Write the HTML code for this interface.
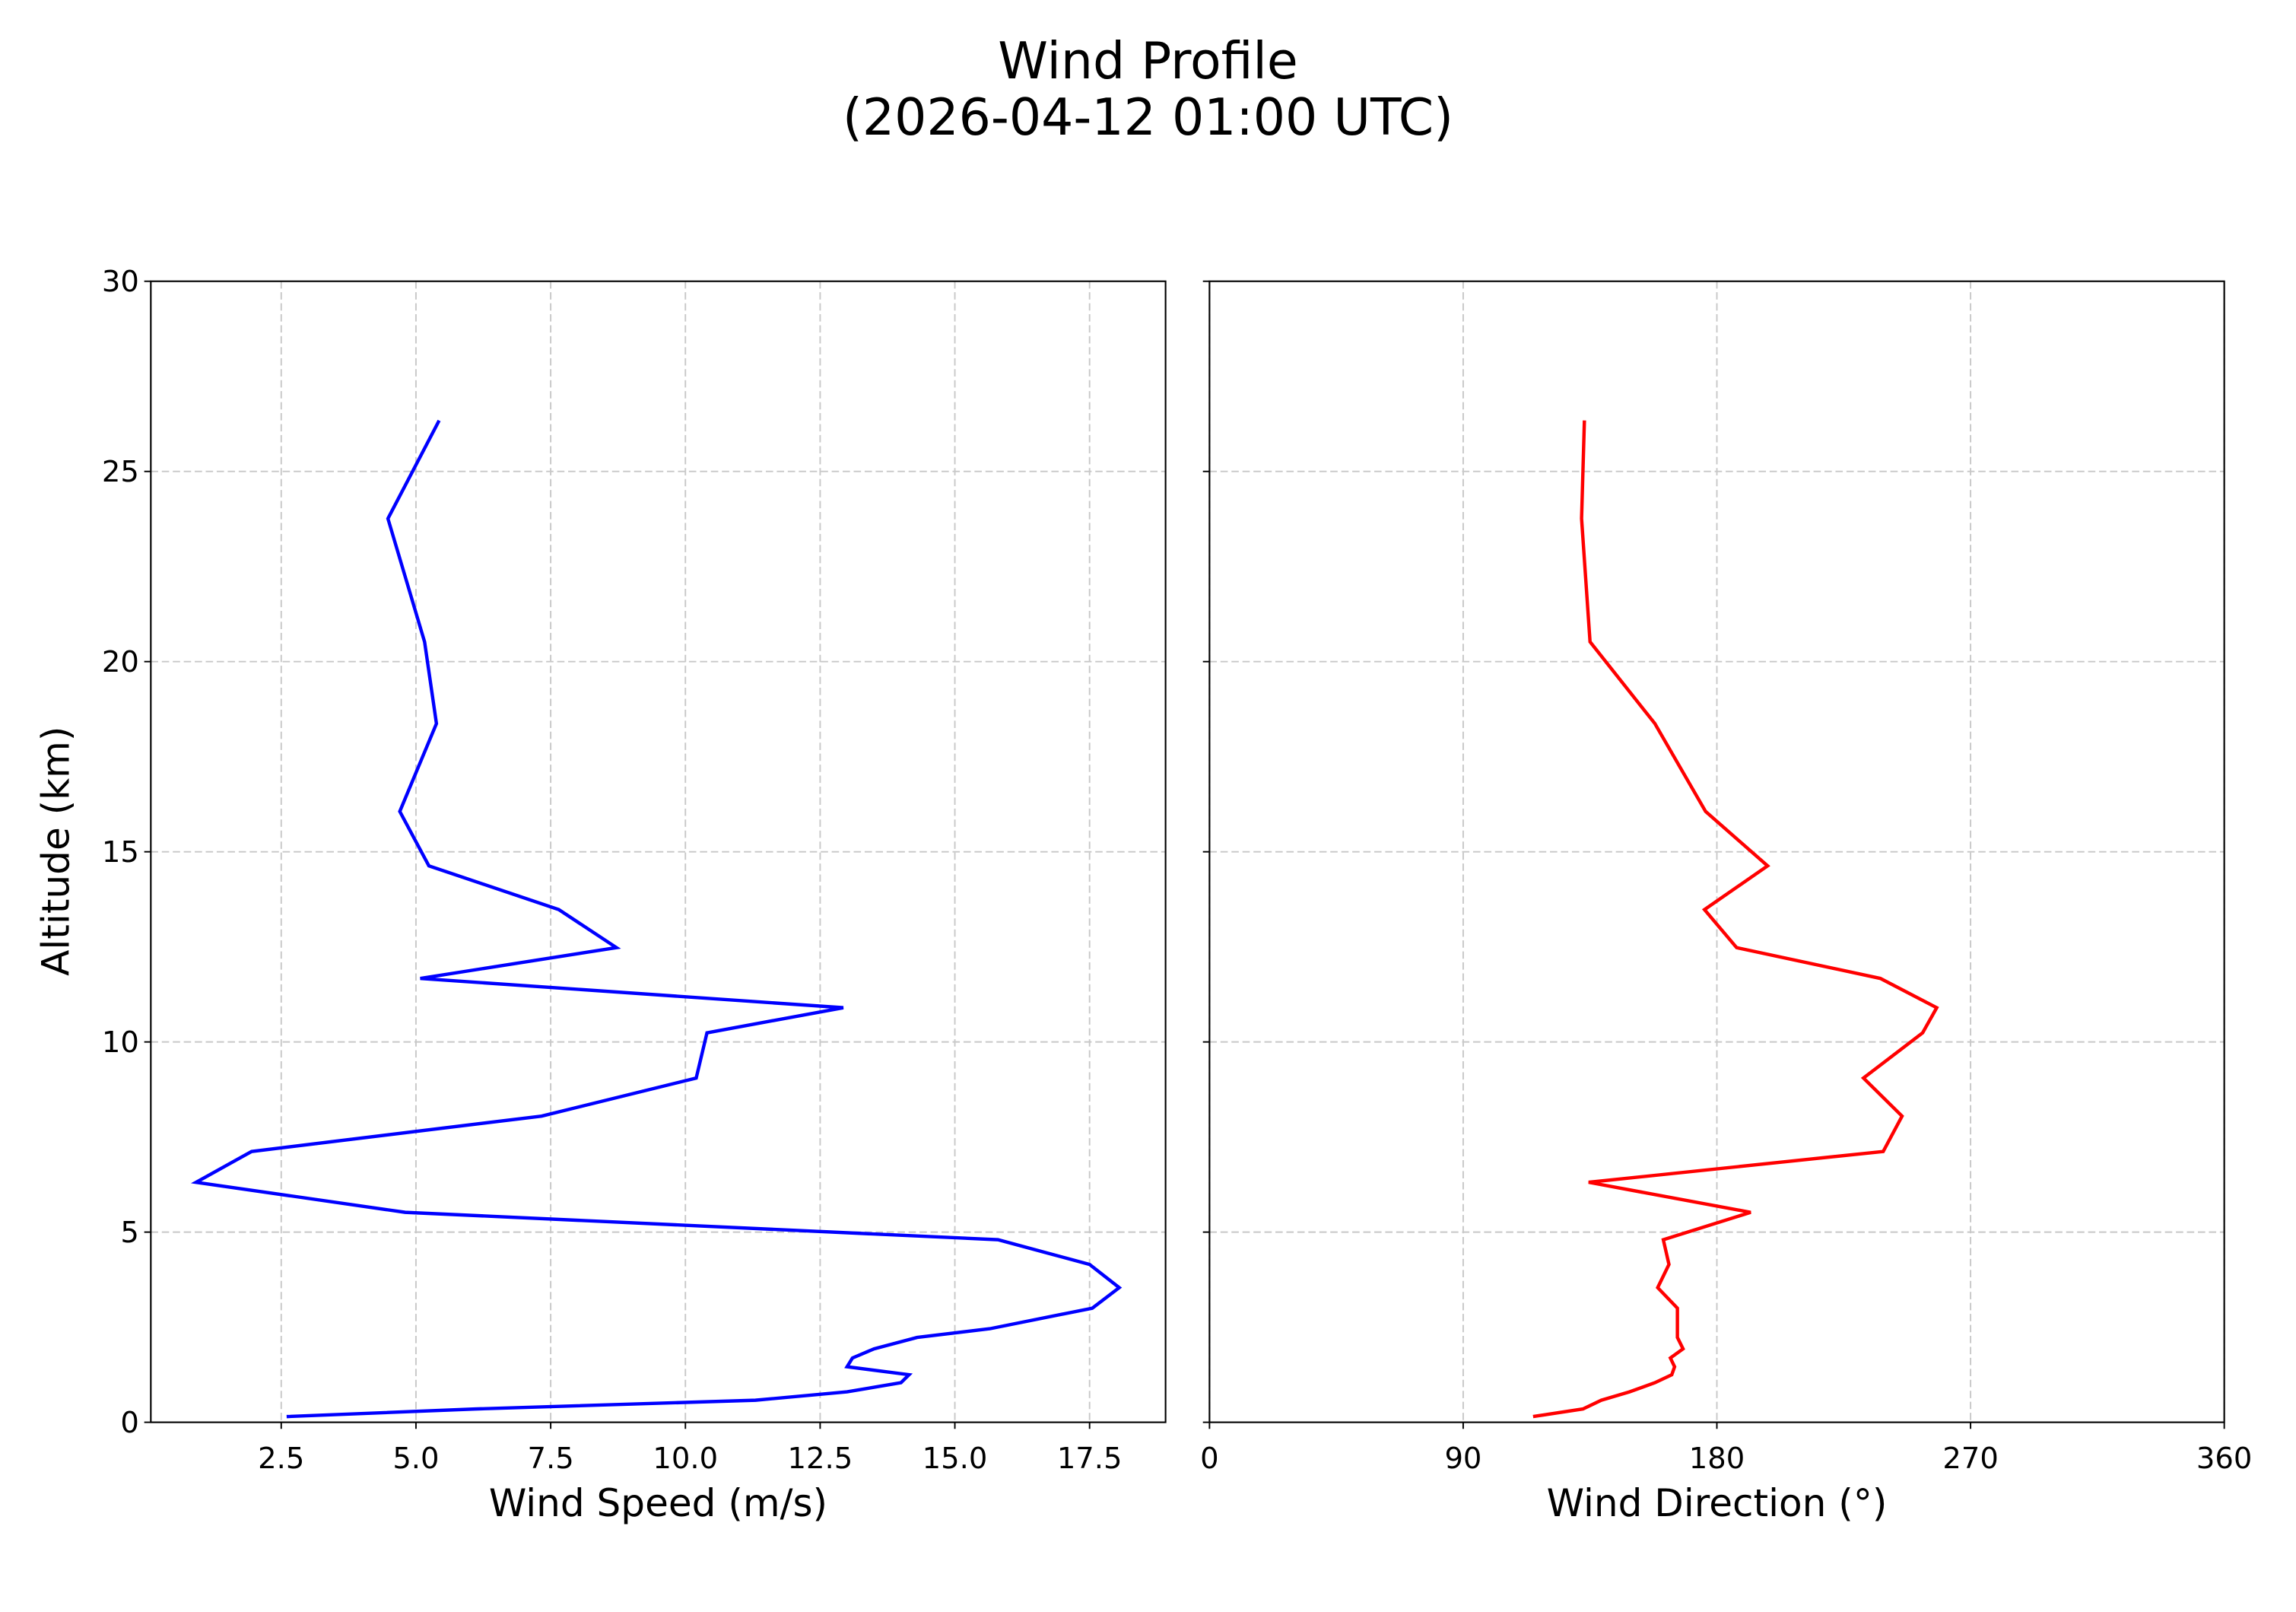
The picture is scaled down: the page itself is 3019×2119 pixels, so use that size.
<!DOCTYPE html>
<html><head><meta charset="utf-8"><style>
html,body{margin:0;padding:0;background:#fff}
svg{display:block}
text{font-family:"DejaVu Sans","Liberation Sans",sans-serif;fill:#000}
</style></head><body>
<svg id="chart" width="3019" height="2119" viewBox="0 0 1568 1100.5" xmlns="http://www.w3.org/2000/svg">
<text x="784" y="53.5" font-size="34.5" text-anchor="middle">Wind Profile</text>
<text x="784" y="92" font-size="34.5" text-anchor="middle">(2026-04-12 01:00 UTC)</text>
<g id="left"></g>
<g id="right"></g>
<text transform="translate(47,581) rotate(-90)" font-size="26" text-anchor="middle">Altitude (km)</text>
<text x="449.5" y="1035" font-size="26" text-anchor="middle">Wind Speed (m/s)</text>
<text x="1172.5" y="1035" font-size="26" text-anchor="middle">Wind Direction (°)</text>
</svg>
<script>
const altitudes=[0.15,0.35,0.58,0.8,1.04,1.25,1.46,1.69,1.93,2.23,2.46,3.0,3.54,4.15,4.8,5.52,6.31,7.12,8.05,9.05,10.24,10.9,11.67,12.48,13.48,14.63,16.06,18.37,20.52,23.76,26.34];
const speeds=[2.6,6.1,11.3,13.0,14.0,14.15,13.0,13.1,13.5,14.3,15.65,17.55,18.05,17.5,15.8,4.8,0.92,1.95,7.33,10.2,10.4,12.93,5.08,8.72,7.65,5.24,4.7,5.38,5.16,4.48,5.43];
const directions=[114.8,132.5,139,149,158,164,165,163.5,168,166,166,166,159,163,161,192,134.5,239,245.7,232,253,258,238,187,175.6,198,176,158,135,132,133];
const yTicks=[0,5,10,15,20,25,30];
const speedTicks=[2.5,5.0,7.5,10.0,12.5,15.0,17.5];
const speedTickLabels=["2.5","5.0","7.5","10.0","12.5","15.0","17.5"];
const dirTicks=[0,90,180,270,360];
const dirTickLabels=["0","90","180","270","360"];
const NS="http://www.w3.org/2000/svg";
const plotTop=192,plotBottom=971;
function yS(a){return plotBottom-(a-0)/30*(plotBottom-plotTop);}
function mk(parent,tag,attrs){const e=document.createElementNS(NS,tag);for(const k in attrs)e.setAttribute(k,attrs[k]);parent.appendChild(e);return e;}
function panel(g,x0,x1,dmin,dmax,ticks,labels,vals,color,showY,prefix){
  const xS=v=>x0+(v-dmin)/(dmax-dmin)*(x1-x0);
  ticks.forEach((t,i)=>{
    const gl=mk(g,'line',{x1:xS(t),x2:xS(t),y1:plotTop,y2:plotBottom,stroke:'#c8c8c8','stroke-width':1,'stroke-dasharray':'5,2.5'});
    
    
    const tk=mk(g,'line',{x1:xS(t),x2:xS(t),y1:plotBottom,y2:plotBottom+4.5,stroke:'#000','stroke-width':1});
    
    
    const tl=mk(g,'text',{x:xS(t),y:1002.5,'font-size':20,'text-anchor':'middle'});
    tl.textContent=labels[i];
    
    
  });
  yTicks.forEach(t=>{
    if(t>0&&t<30){
      const gl=mk(g,'line',{x1:x0,x2:x1,y1:yS(t),y2:yS(t),stroke:'#c8c8c8','stroke-width':1,'stroke-dasharray':'5,2.5'});
      
      
    }
    const tk=mk(g,'line',{x1:x0-4.5,x2:x0,y1:yS(t),y2:yS(t),stroke:'#000','stroke-width':1});
    
    
    if(showY){
      const tl=mk(g,'text',{x:x0-8,y:yS(t)+7,'font-size':20,'text-anchor':'end'});
      tl.textContent=String(t);
      
      
    }
  });
  const pts=vals.map((v,i)=>xS(v).toFixed(2)+','+yS(altitudes[i]).toFixed(2)).join(' ');
  const pl=mk(g,'polyline',{points:pts,fill:'none',stroke:color,'stroke-width':2.3,'stroke-linejoin':'miter'});
  
  
  const fr=mk(g,'rect',{x:x0,y:plotTop,width:x1-x0,height:plotBottom-plotTop,fill:'none',stroke:'#000','stroke-width':1.1});
  
  
}
panel(document.getElementById('left'),103,796,0.08,18.91,speedTicks,speedTickLabels,speeds,'#0000ff',true,'speed');
panel(document.getElementById('right'),826,1519,0,360,dirTicks,dirTickLabels,directions,'#ff0000',false,'direction');
</script>
</body></html>
